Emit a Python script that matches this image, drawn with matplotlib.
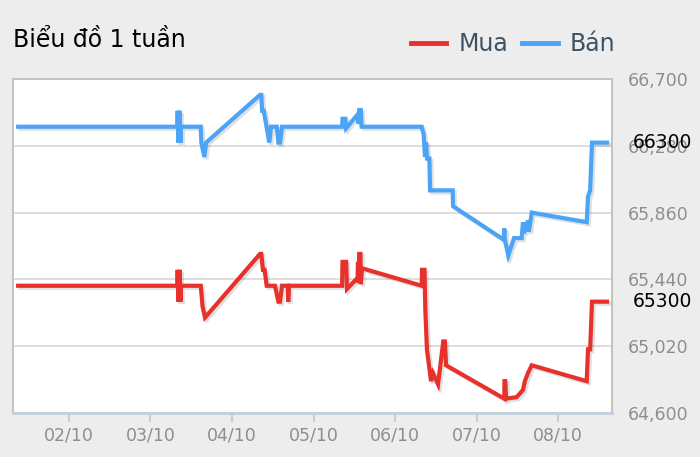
import matplotlib
matplotlib.use("Agg")
import matplotlib.pyplot as plt
import matplotlib.patheffects as pe
from matplotlib.ticker import FuncFormatter

# time axis: fractional day of October (2.0 = 02/10 00:00)
ban_t = [1.38, 3.33, 3.335, 3.345, 3.36, 3.37, 3.376, 3.618, 3.625, 3.662, 3.683,
         4.344, 4.36, 4.37, 4.39, 4.458, 4.479, 4.55, 4.569, 4.59, 4.614,
         5.35, 5.355, 5.39, 5.40, 5.545, 5.55, 5.56, 5.58, 5.59,
         6.326, 6.35, 6.366, 6.38, 6.391, 6.42, 6.428, 6.706, 6.71,
         7.33, 7.338, 7.345, 7.387, 7.457, 7.551, 7.567, 7.58, 7.627, 7.64, 7.674,
         8.348, 8.364, 8.39, 8.413, 8.597]
ban_v = [66400, 66400, 66500, 66300, 66500, 66300, 66400, 66400, 66300, 66210, 66300,
         66600, 66600, 66500, 66500, 66300, 66400, 66400, 66300, 66300, 66400,
         66400, 66450, 66450, 66390, 66480, 66420, 66505, 66505, 66400,
         66400, 66350, 66210, 66300, 66200, 66200, 66000, 66000, 65900,
         65690, 65760, 65690, 65590, 65700, 65700, 65800, 65730, 65810, 65740, 65860,
         65800, 65960, 66000, 66300, 66300]

mua_t = [1.38, 3.33, 3.335, 3.345, 3.36, 3.37, 3.376, 3.618, 3.64, 3.67,
         4.344, 4.36, 4.38, 4.40, 4.426, 4.528, 4.569, 4.589, 4.614, 4.685, 4.69, 4.70,
         5.35, 5.355, 5.40, 5.41, 5.54, 5.545, 5.55, 5.56, 5.575, 5.58, 5.594,
         6.326, 6.33, 6.36, 6.37, 6.39, 6.44, 6.464, 6.526, 6.59, 6.61, 6.624,
         7.338, 7.34, 7.35, 7.36, 7.49, 7.567, 7.59, 7.627, 7.674,
         8.348, 8.364, 8.39, 8.413, 8.597]
mua_v = [65400, 65400, 65500, 65300, 65500, 65300, 65400, 65400, 65270, 65200,
         65600, 65600, 65500, 65500, 65400, 65400, 65300, 65300, 65400, 65400, 65300, 65400,
         65400, 65550, 65550, 65380, 65450, 65550, 65420, 65600, 65600, 65410, 65510,
         65400, 65500, 65500, 65250, 65000, 64800, 64850, 64780, 65050, 65050, 64900,
         64690, 64800, 64800, 64690, 64700, 64745, 64800, 64850, 64900,
         64800, 65000, 65000, 65300, 65300]

day_ticks = [2, 3, 4, 5, 6, 7, 8]
y_ticks = [64600, 65020, 65440, 65860, 66280, 66700]
last_ban = 66300
last_mua = 65300

bg = "#ededed"
fig = plt.figure(figsize=(7, 4.57), dpi=100, facecolor=bg)
ax = fig.add_axes([13 / 700, 1 - 413 / 457, 599 / 700, 334 / 457])
ax.set_facecolor("white")

shadow = [pe.SimpleLineShadow(offset=(1.5, -1.5), shadow_color="black", alpha=0.12),
          pe.Normal()]
ax.plot(mua_t, mua_v, color="#e8312a", lw=3, label="Mua", path_effects=shadow,
        solid_joinstyle="miter", zorder=3)
ax.plot(ban_t, ban_v, color="#4ba4f7", lw=3, label="Bán", path_effects=shadow,
        solid_joinstyle="miter", zorder=3)

ax.set_xlim(1.317, 8.658)
ax.set_ylim(64600, 66700)

ax.set_xticks(day_ticks)
ax.set_xticklabels(["%02d/10" % d for d in day_ticks])
ax.set_yticks(y_ticks)
ax.yaxis.set_major_formatter(FuncFormatter(lambda v, p: "{:,.0f}".format(v)))
ax.yaxis.tick_right()
ax.tick_params(axis="y", length=0, pad=11, labelsize=12.5, labelcolor="#8e8e8e")
ax.tick_params(axis="x", length=6.5, width=1.5, color="#c0d0e0", pad=3,
               labelsize=12.5, labelcolor="#8e8e8e")
ax.grid(axis="y", color="#d8d8d8", lw=1.2)
ax.set_axisbelow(True)

for s in ["left", "top", "right"]:
    ax.spines[s].set_color("#c4c4c4")
    ax.spines[s].set_linewidth(1.5)
ax.spines["bottom"].set_color("#c0d0e0")
ax.spines["bottom"].set_linewidth(2)

# last values next to the axis
for v in [last_ban, last_mua]:
    ax.text(1.034, v, str(v), transform=ax.get_yaxis_transform(), ha="left",
            va="center", fontsize=13.5, color="black")

fig.text(13 / 700, 1 - 40 / 457, "Biểu đồ 1 tuần", fontsize=17, color="black",
         ha="left", va="center")

leg = ax.legend(loc="center right", bbox_to_anchor=(615 / 700, 1 - 44 / 457),
                bbox_transform=fig.transFigure, ncol=2, frameon=False,
                fontsize=17, handlelength=1.5, handletextpad=0.5, columnspacing=0.6,
                borderaxespad=0, borderpad=0)
for t in leg.get_texts():
    t.set_color("#3e5266")
for h in leg.get_lines():
    h.set_path_effects([])
    h.set_linewidth(3.5)

fig.savefig("out.png", dpi=100, facecolor=bg)
